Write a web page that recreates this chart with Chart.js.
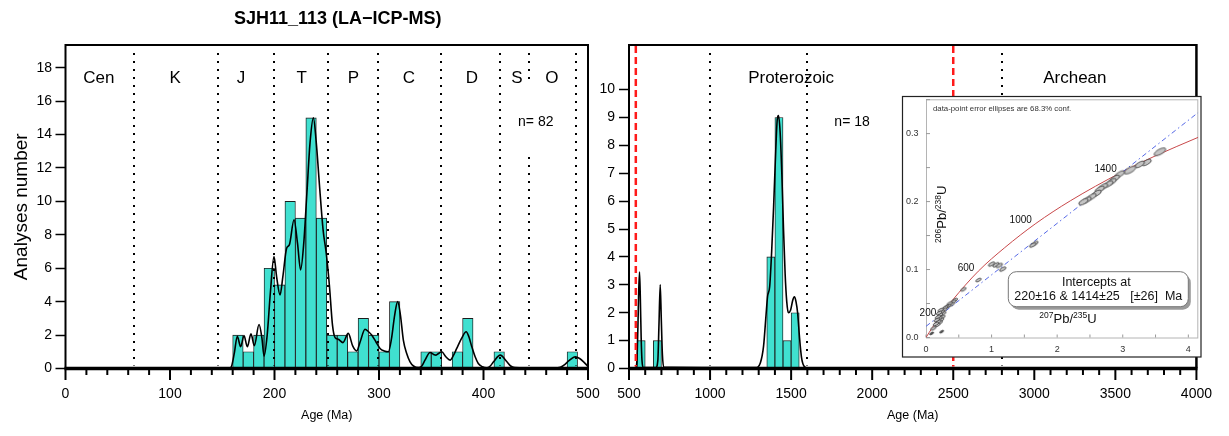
<!DOCTYPE html>
<html><head><meta charset="utf-8">
<script src="https://cdn.jsdelivr.net/npm/chart.js@4.4.1/dist/chart.umd.min.js"></script>
<style>
html,body{margin:0;padding:0;background:#fff;}
#wrap{position:relative;width:1229px;height:436px;overflow:hidden;}
canvas{position:absolute;left:0;top:0;width:1229px;height:436px;}
</style></head><body>
<div id="wrap">
<canvas id="c1" width="1229" height="436"></canvas>
<canvas id="c2" width="1229" height="436"></canvas>
<canvas id="c3" width="1229" height="436"></canvas>
</div>
<script>
const FONT = '"Liberation Sans", Arial, Helvetica, sans-serif';
Chart.defaults.font.family = FONT;

// ---------- Left panel (Phanerozoic) ----------
const chartTitle = 'SJH11_113 (LA\u2212ICP-MS)';
const leftBinStart = 150, leftBinWidth = 10;
const leftCounts = [0,2,1,2,6,5,10,9,15,9, 2,2,1,3,2,1,4,0,0,1, 1,0,1,3,0,0,1,0,0,0, 0,0,0,1,0];
const leftKdeAge = [0,150,157,159,161.5,164.4,167.6,170.8,174,177.5,180.7,185.2,188,190,193,196,199.5,202,205.3,208,211.6,214.2,218.7,222,225,228,231,234,237.2,240,243,246.5,249.5,252.5,255.5,258,261,265.5,270.6,274.8,278.6,282,286.6,290,293,297,301,305,309,312,315,317.9,320.5,323.3,326.5,329.7,333,337.7,341,344,348.9,352,354.6,357,360,364,368,371,374.4,379,383.4,386,388.8,392,395,399,403,406.5,409.6,416,422.4,426,430,440,465,473.5,478,481.5,487.9,492,495.8,500];
const leftKdeVal = [0,0,0.02,0.15,0.9,1.93,1.3,1.97,1.3,2.07,1.37,2.63,1.8,0.74,2.0,4.5,6.7,5.5,4.4,5.5,7.2,7.4,8.9,7.5,5.9,7.5,10.5,13.5,15.0,13.5,11,8.3,6.9,5.0,2.6,1.85,1.75,1.55,2.1,1.35,1.05,1.6,2.35,2.2,2.0,1.6,1.2,1.05,1.0,1.8,3.2,4.0,3.2,1.7,0.9,0.4,0.15,0.05,0.15,0.5,0.96,0.85,0.8,0.9,1.0,0.7,0.5,0.75,1.2,1.8,2.2,1.9,1.3,0.7,0.3,0.1,0.04,0.15,0.4,0.8,0.4,0.15,0.05,0.02,0.02,0.08,0.25,0.45,0.7,0.6,0.4,0.12];
const leftBoundaries = [65.5,145.5,199.6,251,299,359.2,416,443.7,488.3];
const leftEraNames = ['Cen','K','J','T','P','C','D','S','O'];
const leftEraAges = [32,105,168,226,275.5,328.6,389,432,465.5];
const leftNLabel = 'n= 82', leftNAge = 450;
const leftYMaxTick = 18;

// ---------- Right panel (Precambrian) ----------
const rightBinStart = 500, rightBinWidth = 50;
const rightCounts = [0,1,0,1,0,0,0,0,0,0,0,0,0,0,0,0,0,4,9,1,2,0];
const rightKdeAge = [500,540,548,555,560,565,570,575,580,588,665,678,685,692.6,699,706,714,1280,1310,1330,1345,1355,1367.6,1380,1392,1405,1414,1422,1432,1442.6,1453,1463,1473,1483,1497,1510,1520,1530,1540,1552,1564,1580,1600,4000];
const rightKdeVal = [0,0.02,0.2,1.5,2.8,3.46,2.5,1.1,0.3,0.03,0.03,0.3,1.6,3.0,1.8,0.5,0.05,0.03,0.2,0.8,1.9,2.6,2.93,4.2,5.8,7.8,8.9,9.07,8.5,7.0,5.0,3.4,2.4,2.0,2.1,2.45,2.57,2.4,2.0,1.1,0.4,0.08,0.02,0];
const rightDotted = [1000,1600,2800];
const rightRed = [542,2500];
const rightEraNames = ['Proterozoic','Archean'];
const rightEraAges = [1500,3250];
const rightNLabel = 'n= 18', rightNAge = 1876;
const rightYMaxTick = 10;

// ---------- Inset (concordia diagram) ----------
const concX = [0,0.1,0.218,0.4,0.798,1.2,1.675,2.2,2.969,3.5,4.15];
const concY = [0,0.0151,0.0315,0.0544,0.0976,0.1322,0.1678,0.2011,0.2425,0.2674,0.2945];
const concAgeLabels = ['200','600','1000','1400'];
const concAgeX = [0.218,0.798,1.675,2.969];
const concAgeY = [0.0315,0.0976,0.1678,0.2425];
const discX = [0,4.15];
const discY = [0.0164,0.331];
const ellX = [3.567,3.364,3.26,3.11,2.957,2.88,2.83,2.78,2.70,2.65,2.60,2.526,2.45,2.40,1.66,1.626,1.0,1.067,1.117,1.17,0.80,0.57,0.44,0.416,0.39,0.36,0.34,0.31,0.29,0.28,0.264,0.25,0.239,0.23,0.223,0.213,0.21,0.203,0.2,0.188,0.18,0.173,0.163,0.15,0.112,0.086,0.239];
const ellY = [0.2733,0.2576,0.2547,0.2463,0.2404,0.234,0.229,0.2257,0.2218,0.218,0.212,0.207,0.2022,0.1997,0.1385,0.136,0.108,0.107,0.106,0.1007,0.0846,0.0709,0.055,0.0527,0.0487,0.050,0.0463,0.045,0.0438,0.041,0.0355,0.030,0.038,0.026,0.0404,0.0331,0.022,0.0282,0.036,0.0233,0.030,0.0184,0.0257,0.020,0.0135,0.006,0.0086];
const insetNote = 'data-point error ellipses are 68.3% conf.';
const interceptLines = ['Intercepts at','220\u00b116 & 1414\u00b125   [\u00b126]  Ma'];

// ---------- helpers ----------
const BAR = '#40E0D0';
function histData(start, width, counts){ return counts.map((v,i)=>({x:start+width*(i+0.5), y:v})); }
function xy(xs, ys){ return xs.map((v,i)=>({x:v, y:ys[i]})); }

function drawAxesDeco(chart, cfg){
  const {ctx, chartArea:ca, scales:{x}} = chart;
  ctx.save();
  ctx.strokeStyle = '#000'; ctx.lineWidth = 2; ctx.setLineDash([2,6]);
  cfg.dotted.forEach(a=>{
    const px = Math.round(x.getPixelForValue(a));
    ctx.beginPath(); ctx.moveTo(px, ca.top+8); ctx.lineTo(px, ca.bottom-3); ctx.stroke();
  });
  if (cfg.red){
    ctx.strokeStyle = '#ff1a1a'; ctx.lineWidth = 2.5; ctx.setLineDash([7,4]);
    cfg.red.forEach(a=>{
      const px = x.getPixelForValue(a);
      ctx.beginPath(); ctx.moveTo(px, ca.top+1); ctx.lineTo(px, ca.bottom-2); ctx.stroke();
    });
  }
  ctx.setLineDash([]);
  ctx.font = '14px '+FONT; ctx.textAlign='center'; ctx.textBaseline='middle';
  const nx = x.getPixelForValue(cfg.nAge), ny = ca.top+77;
  if (cfg.nBox){ ctx.fillStyle='#fff'; ctx.fillRect(nx-28, ca.top+40, 56, 70); }
  ctx.fillStyle='#000'; ctx.fillText(cfg.nLabel, nx, ny);
  ctx.strokeStyle='#000'; ctx.lineWidth = 2;
  ctx.beginPath(); ctx.moveTo(ca.left, ca.bottom); ctx.lineTo(ca.left, ca.top); ctx.lineTo(ca.right, ca.top); ctx.stroke();
  ctx.lineWidth = cfg.rightW; ctx.beginPath(); ctx.moveTo(ca.right, ca.top-1); ctx.lineTo(ca.right, ca.bottom); ctx.stroke();
  ctx.lineWidth = 3.5; ctx.beginPath(); ctx.moveTo(ca.left-1, ca.bottom); ctx.lineTo(ca.right+1, ca.bottom); ctx.stroke();
  ctx.lineWidth = 2;
  for (let v = x.min; v <= x.max + 1e-6; v += cfg.minorStep){
    const px = x.getPixelForValue(v);
    const major = Math.abs(v % cfg.majorStep) < 1e-6;
    const len = major ? 11.5 : 6.5;
    ctx.beginPath(); ctx.moveTo(px, ca.bottom); ctx.lineTo(px, ca.bottom+len); ctx.stroke();
  }
  ctx.font = '17px '+FONT; ctx.fillStyle='#000'; ctx.textAlign='center'; ctx.textBaseline='middle';
  cfg.eraNames.forEach((n,i)=> ctx.fillText(n, x.getPixelForValue(cfg.eraAges[i]), ca.top+33));
  if (cfg.title){
    ctx.font = 'bold 18px '+FONT;
    ctx.fillText(cfg.title, (ca.left+ca.right)/2 + 11, 19);
  }
  ctx.restore();
}

function histOptions(o){
  return {
    responsive:false, animation:false, devicePixelRatio:1,
    layout:{padding:{left:o.padLeft, right:o.padRight, top:45, bottom:0}},
    plugins:{legend:{display:false}, tooltip:{enabled:false}},
    scales:{
      x:{type:'linear', min:o.xmin, max:o.xmax, offset:false,
         grid:{display:false, drawTicks:false}, border:{display:false},
         ticks:{stepSize:o.xstep, padding:17, color:'#000', font:{size:14}, maxRotation:0, autoSkip:false, includeBounds:false, callback:v=>String(v)},
         title:{display:true, text:'Age (Ma)', color:'#000', font:{size:12.5}, padding:{top:0,bottom:13}},
         afterFit(s){ s.height = 436-368.5; }},
      y:{min:0, max:o.ymax,
         ticks:{stepSize:o.ystep, includeBounds:false, padding:o.ypad, color:'#000', font:{size:14}, autoSkip:false, callback:v=>String(v)},
         afterBuildTicks(s){ s.ticks = s.ticks.filter(t=>t.value <= o.ymaxTick + 1e-9); },
         grid:{display:true, drawOnChartArea:false, drawTicks:true, tickLength:10, tickWidth:1.5, tickColor:'#000', color:'#000'},
         border:{display:false},
         title:{display:!!o.ytitle, text:o.ytitle||'', color:'#000', font:{size:19}, padding:{top:10.6,bottom:0}},
         afterFit(s){ s.width = o.yWidth; }}
    }
  };
}

new Chart(document.getElementById('c1'), {
  type:'bar',
  data:{datasets:[
    {type:'line', data:xy(leftKdeAge,leftKdeVal), borderColor:'#000', borderWidth:1.6, pointRadius:0, fill:false, cubicInterpolationMode:'monotone', order:0},
    {type:'bar', data:histData(leftBinStart,leftBinWidth,leftCounts), backgroundColor:BAR, borderColor:'#1c1c1c', borderWidth:0.9, borderSkipped:false, barPercentage:1, categoryPercentage:1, order:1}
  ]},
  options:histOptions({padLeft:0, padRight:1229-588, xmin:0, xmax:500, xstep:100, ymax:19.36, ymaxTick:leftYMaxTick, ystep:2, ypad:3.5, yWidth:65.5, ytitle:'Analyses number'}),
  plugins:[{id:'deco1', afterDatasetsDraw(chart){ drawAxesDeco(chart,{dotted:leftBoundaries, nLabel:leftNLabel, nAge:leftNAge, nBox:true, rightW:2, minorStep:20, majorStep:100, eraNames:leftEraNames, eraAges:leftEraAges, title:chartTitle}); }}]
});

new Chart(document.getElementById('c2'), {
  type:'bar',
  data:{datasets:[
    {type:'line', data:xy(rightKdeAge,rightKdeVal), borderColor:'#000', borderWidth:1.6, pointRadius:0, fill:false, cubicInterpolationMode:'monotone', order:0},
    {type:'bar', data:histData(rightBinStart,rightBinWidth,rightCounts), backgroundColor:BAR, borderColor:'#1c1c1c', borderWidth:0.9, borderSkipped:false, barPercentage:1, categoryPercentage:1, order:1}
  ]},
  options:histOptions({padLeft:600, padRight:1229-1204.5, xmin:500, xmax:4000, xstep:500, ymax:11.6, ymaxTick:rightYMaxTick, ystep:1, ypad:4, yWidth:29}),
  plugins:[{id:'deco2', afterDatasetsDraw(chart){ drawAxesDeco(chart,{dotted:rightDotted, red:rightRed, nLabel:rightNLabel, nAge:rightNAge, nBox:false, rightW:2.5, minorStep:100, majorStep:500, eraNames:rightEraNames, eraAges:rightEraAges}); }}]
});

const ellCache = {};
function ellipseCanvas(a, b, fill){
  const key = a+'_'+b+'_'+fill;
  if (ellCache[key]) return ellCache[key];
  const s = Math.ceil(2*a+4);
  const c = document.createElement('canvas'); c.width = s; c.height = s;
  const g = c.getContext('2d');
  g.beginPath(); g.ellipse(s/2, s/2, a, b, -29*Math.PI/180, 0, 2*Math.PI);
  g.fillStyle = fill; g.fill(); g.lineWidth = 0.8; g.strokeStyle = '#333'; g.stroke();
  ellCache[key] = c; return c;
}
function ellStyle(ctx){
  const p = ctx.raw; if (!p) return 'circle';
  if (p.y < 0.01) return ellipseCanvas(2.2, 0.9, '#555');
  if (p.x > 2.3){
    if ((p.x > 3.0 && p.x < 3.2) || p.x > 3.5) return ellipseCanvas(6.5, 2.6, '#c4c4c4');
    return ellipseCanvas(5.2, 2.2, '#c4c4c4');
  }
  if (p.x > 0.9) return ellipseCanvas(3.6, 1.5, '#c4c4c4');
  return ellipseCanvas(3.0, 1.3, '#c4c4c4');
}
function supText(ctx, parts, cx, cy){
  const big = '13px '+FONT, small = '8.5px '+FONT;
  let w = 0;
  parts.forEach(([t,s])=>{ ctx.font = s?small:big; w += ctx.measureText(t).width; });
  let x = cx - w/2;
  ctx.textAlign='left'; ctx.textBaseline='alphabetic';
  parts.forEach(([t,s])=>{ ctx.font = s?small:big; ctx.fillText(t, x, s ? cy-1 : cy+4.5); x += ctx.measureText(t).width; });
}

new Chart(document.getElementById('c3'), {
  type:'scatter',
  data:{datasets:[
    {type:'scatter', data:xy(ellX,ellY), pointStyle:ellStyle, pointRadius:3, order:0},
    {type:'line', data:xy(discX,discY), borderColor:'#5568e6', borderWidth:1, borderDash:[5,3,1.5,3], pointRadius:0, fill:false, order:1},
    {type:'line', data:xy(concX,concY), borderColor:'#c8484a', borderWidth:1, pointRadius:0, fill:false, cubicInterpolationMode:'monotone', order:2}
  ]},
  options:{
    responsive:false, animation:false, devicePixelRatio:1,
    layout:{padding:{left:902, right:1229-1198.3, top:99.3, bottom:79}},
    plugins:{legend:{display:false}, tooltip:{enabled:false}},
    scales:{
      x:{type:'linear', min:0, max:4.152, grid:{display:false, drawTicks:false}, border:{display:false},
         ticks:{stepSize:1, includeBounds:false, padding:7, color:'#333', font:{size:9}, maxRotation:0, autoSkip:false},
         afterFit(s){ s.height = 436-79-337.5; }},
      y:{type:'linear', min:0, max:0.3505, grid:{display:false, drawTicks:false}, border:{display:false},
         ticks:{stepSize:0.1, includeBounds:false, padding:7.5, color:'#333', font:{size:9}, autoSkip:false, callback:v=>Number(v).toFixed(1)},
         afterFit(s){ s.width = 24; }}
    }
  },
  plugins:[{
    id:'inset',
    beforeDraw(chart){
      const {ctx} = chart;
      ctx.save();
      ctx.fillStyle = '#fff'; ctx.fillRect(902, 96.5, 299, 260.5);
      ctx.strokeStyle = '#222'; ctx.lineWidth = 1.2; ctx.strokeRect(902.5, 96.5, 298.5, 260.5);
      ctx.restore();
    },
    beforeDatasetsDraw(chart){
      const {ctx, chartArea:ca, scales:{x,y}} = chart;
      ctx.save();
      ctx.strokeStyle = '#b4b4b4'; ctx.lineWidth = 1;
      ctx.strokeRect(ca.left+0.5, ca.top+0.5, ca.right-ca.left-1, ca.bottom-ca.top);
      ctx.strokeStyle = '#999';
      for (let v=0; v<=4.01; v+=0.5){ const px = x.getPixelForValue(v); ctx.beginPath(); ctx.moveTo(px, ca.bottom); ctx.lineTo(px, ca.bottom-3); ctx.stroke(); }
      for (let v=0; v<=0.351; v+=0.05){ const py = y.getPixelForValue(v); ctx.beginPath(); ctx.moveTo(ca.left, py); ctx.lineTo(ca.left+4, py); ctx.stroke(); }
      ctx.restore();
    },
    afterDatasetsDraw(chart){
      const {ctx, chartArea:ca, scales:{x,y}} = chart;
      ctx.save();
      ctx.fillStyle = '#333'; ctx.font = '7.8px '+FONT; ctx.textAlign='left'; ctx.textBaseline='middle';
      ctx.fillText(insetNote, ca.left+7, ca.top+10);
      ctx.fillStyle = '#111'; ctx.font = '10px '+FONT; ctx.textAlign='right';
      concAgeLabels.forEach((t,i)=>{
        ctx.fillText(t, x.getPixelForValue(concAgeX[i])-4, y.getPixelForValue(concAgeY[i])-3);
      });
      const bx = ca.left+82.3, by = ca.top+172.4, bw = 180, bh = 35, r = 8;
      function rr(x0,y0){ ctx.beginPath(); ctx.roundRect(x0,y0,bw,bh,r); }
      ctx.fillStyle = '#9a9a9a'; rr(bx+2.5, by+3); ctx.fill();
      ctx.fillStyle = '#fff'; rr(bx, by); ctx.fill();
      ctx.strokeStyle = '#777'; ctx.lineWidth = 1; ctx.stroke();
      ctx.fillStyle = '#111'; ctx.font = '12.5px '+FONT; ctx.textAlign='center'; ctx.textBaseline='middle';
      ctx.fillText(interceptLines[0], bx+bw/2-2, by+10.5);
      ctx.fillText(interceptLines[1], bx+bw/2, by+24.5);
      ctx.fillStyle = '#111';
      supText(ctx, [['207',true],['Pb/',false],['235',true],['U',false]], ca.left+142, ca.bottom-19);
      ctx.save(); ctx.translate(ca.left+15.7, ca.top+115); ctx.rotate(-Math.PI/2);
      supText(ctx, [['206',true],['Pb/',false],['238',true],['U',false]], 0, 0);
      ctx.restore();
      ctx.restore();
    }
  }]
});
</script>
</body></html>
